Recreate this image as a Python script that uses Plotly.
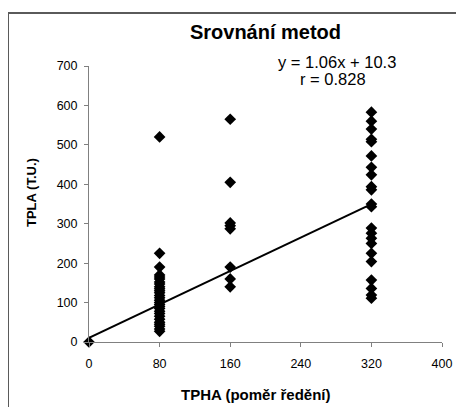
import plotly.graph_objects as go

# ---- data ----
x_groups = [0, 80, 160, 320]
y_at_0 = [0]
y_at_80 = [520, 225, 190, 170, 165, 160, 152, 147, 140, 135, 130, 125, 118, 112,
           106, 100, 95, 90, 85, 78, 72, 65, 58, 50, 45, 40, 33, 27]
y_at_160 = [565, 405, 302, 295, 287, 190, 160, 140]
y_at_320 = [583, 560, 540, 514, 508, 472, 443, 424, 394, 386, 350, 343,
            289, 276, 263, 250, 225, 204, 157, 136, 119, 111]
slope = 1.06
intercept = 10.3
r_value = 0.828
x_ticks = [0, 80, 160, 240, 320, 400]
y_ticks = [0, 100, 200, 300, 400, 500, 600, 700]

title_text = "Srovnání metod"
x_title = "TPHA (poměr ředění)"
y_title = "TPLA (T.U.)"

# ---- build points ----
xs, ys = [], []
for gx, vals in zip(x_groups, [y_at_0, y_at_80, y_at_160, y_at_320]):
    xs += [gx] * len(vals)
    ys += vals

line_x = [0, 320]
line_y = [slope * v + intercept for v in line_x]

FONT = "Liberation Sans, Arial, sans-serif"
AX = "#808080"
OFF = 8  # page body margin offset

fig = go.Figure()
fig.add_trace(go.Scatter(x=line_x, y=line_y, mode="lines",
                         line=dict(color="black", width=2),
                         hoverinfo="skip", cliponaxis=False))
fig.add_trace(go.Scatter(x=xs, y=ys, mode="markers",
                         marker=dict(symbol="diamond", size=9, color="black",
                                     line=dict(width=0)),
                         cliponaxis=False))

FW, FH = 464 - OFF, 407 - OFF
fig.update_layout(
    width=FW, height=FH,
    margin=dict(l=89 - OFF, r=FW - (442 - OFF), t=66 - OFF, b=FH - (342 - OFF)),
    paper_bgcolor="white", plot_bgcolor="white",
    showlegend=False,
    font=dict(family=FONT, color="black"),
    title=dict(text=f"<b>{title_text}</b>", x=0.5, xanchor="center",
               xref="paper", y=1 - (32 - OFF) / FH, yanchor="middle",
               yref="container", font=dict(size=20, family=FONT)),
    xaxis=dict(range=[0, 400], tickvals=x_ticks, showgrid=False,
               zeroline=False, showline=True, linecolor=AX, linewidth=1,
               ticks="outside", ticklen=4, tickcolor=AX,
               tickfont=dict(size=12.5, family=FONT),
               ticklabelstandoff=6),
    yaxis=dict(range=[0, 700], tickvals=y_ticks, showgrid=False,
               zeroline=False, showline=True, linecolor=AX, linewidth=1,
               ticks="outside", ticklen=4, tickcolor=AX,
               tickfont=dict(size=12.5, family=FONT),
               ticklabelstandoff=4),
)

W, H = 353.0, 276.0
def px(x):
    return (x - 89) / W
def py(y):
    return (342 - y) / H

fig.add_annotation(text=f"y = {slope:.2f}x + {intercept}", x=px(337), y=py(62),
                   xref="paper", yref="paper", showarrow=False,
                   font=dict(size=16.5, family=FONT), xanchor="center", yanchor="middle")
fig.add_annotation(text=f"r = {r_value}", x=px(333), y=py(79),
                   xref="paper", yref="paper", showarrow=False,
                   font=dict(size=16.5, family=FONT), xanchor="center", yanchor="middle")
fig.add_annotation(text=f"<b>{x_title}</b>", x=px(255), y=py(394),
                   xref="paper", yref="paper", showarrow=False,
                   font=dict(size=15, family=FONT), xanchor="center", yanchor="middle")
fig.add_annotation(text=f"<b>{y_title}</b>", x=px(31), y=py(192),
                   xref="paper", yref="paper", showarrow=False, textangle=-90,
                   font=dict(size=13, family=FONT), xanchor="center", yanchor="middle")

# outer frame (cut by the picture edge on right and bottom)
fig.add_shape(type="path", xref="paper", yref="paper",
              path=f"M {px(8)} {py(420)} L {px(8)} {py(13)} L {px(480)} {py(13)}",
              line=dict(color="#5a5a5a", width=2))

fig.write_html("out.html")
